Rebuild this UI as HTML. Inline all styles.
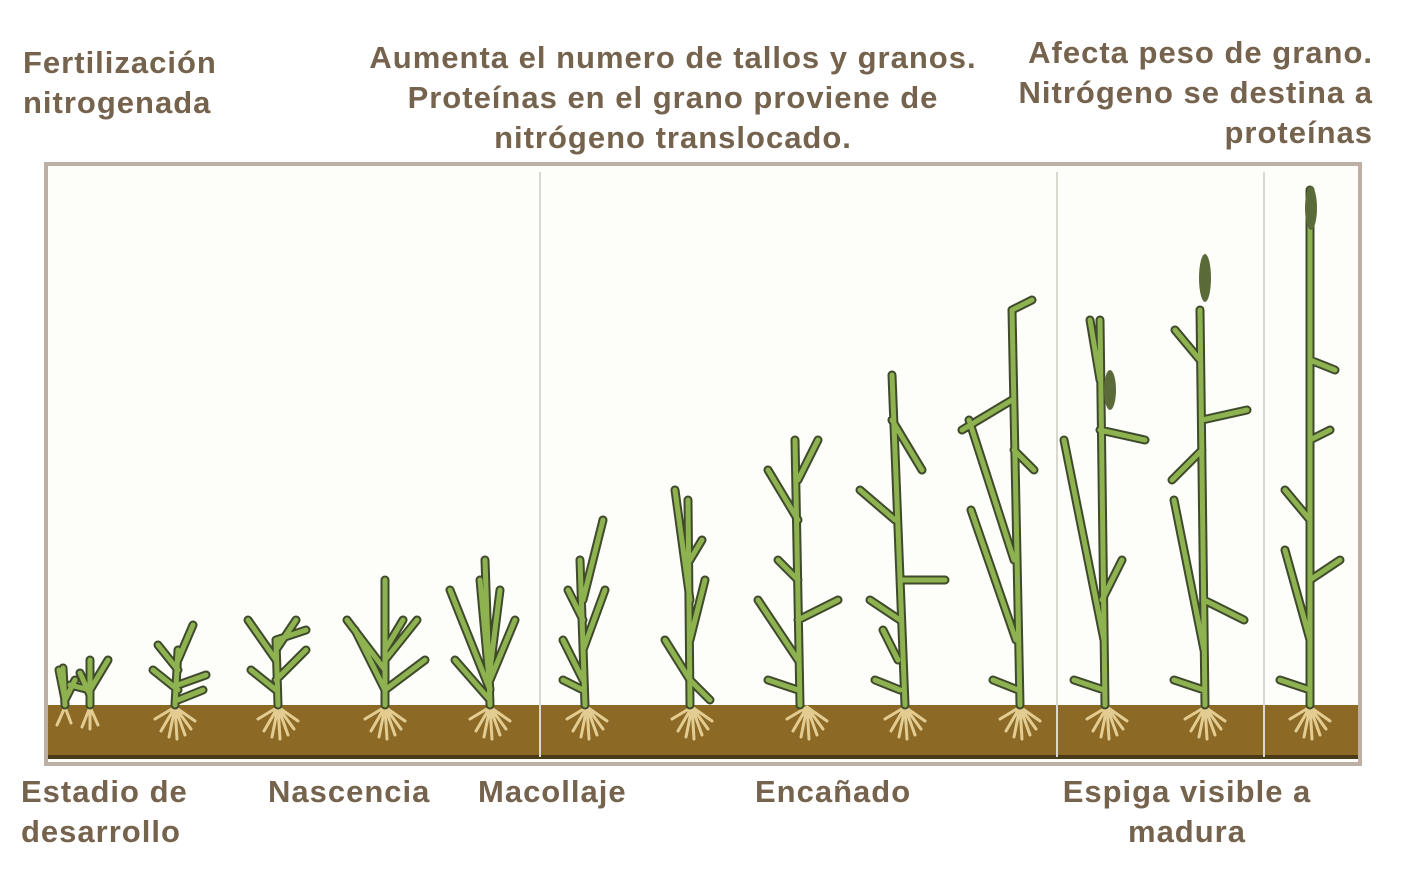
<!DOCTYPE html>
<html><head><meta charset="utf-8"><style>
body{margin:0;width:1404px;height:872px;background:#fff;position:relative;overflow:hidden;font-family:"Liberation Sans",sans-serif;}
.t{position:absolute;color:#75634d;font-weight:bold;font-size:31px;line-height:40px;white-space:nowrap;letter-spacing:1px}
svg{position:absolute;left:0;top:0}
</style></head><body>
<div class="t" style="left:23px;top:43px">Fertilización<br>nitrogenada</div>
<div class="t" style="left:300px;top:38px;width:746px;text-align:center">Aumenta el numero de tallos y granos.<br>Proteínas en el grano proviene de<br>nitrógeno translocado.</div>
<div class="t" style="right:31px;top:33px;text-align:right">Afecta peso de grano.<br>Nitrógeno se destina a<br>proteínas</div>
<div class="t" style="left:21px;top:772px">Estadio de<br>desarrollo</div>
<div class="t" style="left:268px;top:772px">Nascencia</div>
<div class="t" style="left:478px;top:772px">Macollaje</div>
<div class="t" style="left:755px;top:772px">Encañado</div>
<div class="t" style="left:1037px;top:772px;width:300px;text-align:center">Espiga visible a<br>madura</div>
<svg width="1404" height="872" viewBox="0 0 1404 872">
<rect x="46" y="164" width="1314" height="600" fill="#fdfdf9" stroke="#bcb0a4" stroke-width="4"/>
<rect x="48" y="705" width="1310" height="52" fill="#8c6a25"/>
<rect x="48" y="755" width="1310" height="4" fill="#4a3a18"/>
<g stroke="#d8d8d0" stroke-width="2"><line x1="540" y1="172" x2="540" y2="757"/><line x1="1057" y1="172" x2="1057" y2="757"/><line x1="1264" y1="172" x2="1264" y2="757"/></g>
<g stroke="#e3cc92" stroke-width="3" fill="none" stroke-linecap="round">
<path d="M65 707l-8 18M65 707l6 16M90 707l-8 20M90 707l8 18M90 707l0 22"/>
<path id="r" d="M175 707l-14 24M175 707l-6 30M175 707l2 32M175 707l10 28M175 707l16 22M175 707l-20 12M175 707l20 14"/>
<use href="#r" x="103"/><use href="#r" x="210"/><use href="#r" x="315"/><use href="#r" x="412"/><use href="#r" x="517"/><use href="#r" x="632"/><use href="#r" x="730"/><use href="#r" x="845"/><use href="#r" x="932"/><use href="#r" x="1030"/><use href="#r" x="1135"/>
</g>
<g fill="none" stroke-linecap="round" stroke-linejoin="round">
<g stroke="#3f4a2c" stroke-width="9">
<path id="p" d="M65 705L63 668M65 700l-6-30M65 700l10-20M90 705L90 660M90 695l-10-22M90 690l18-30M90 690l-20-5
M175 705L178 650M178 690l-25-20M178 685l28-10M178 670l-20-25M178 660l15-35M178 700l25-10
M278 705L276 640M276 690l-25-20M276 680l30-30M276 660l-28-40M276 650l20-30M276 640l30 -10
M385 705L385 580M385 690l-30-60M385 670l-38-50M385 660l32-40M385 650l18-30M385 690l40-30
M490 705L485 560M490 700l-35-40M490 690l-40-100M490 680l25-60M490 670l10-80M490 690l-10-110
M585 705L580 560M583 680l-20-40M583 650l22-60M583 600l20-80M583 620l-15-30M583 690l-20-10
M690 705L688 500M690 680l-25-40M690 640l15-60M690 600l-15-110M690 560l12-20M690 680l20 20
M800 705L795 440M798 690l-30-10M798 660l-40-60M798 620l40-20M798 520l-30-50M798 480l20-40M798 580l-20-20
M905 705L892 375M900 690l-25-10M900 620l-30-20M900 580l45 0M895 520l-35-30M892 420l30 50M898 660l-15-30
M1020 705L1012 310M1018 690l-25-10M1016 640l-45-130M1014 560l-45-140M1014 450l20 20M1012 400l-50 30M1012 310l20-10
M1105 705L1100 320M1104 690l-30-10M1104 640l-40-200M1102 600l20-40M1100 430l45 10M1100 380l-10-60
M1205 705L1200 310M1204 690l-30-10M1204 650l-30-150M1204 600l40 20M1202 450l-30 30M1202 420l45-10M1200 360l-25-30
M1310 705L1310 190M1310 690l-30-10M1310 640l-25-90M1310 580l30-20M1310 520l-25-30M1310 440l20 -10M1310 360l25 10"/>
</g>
<use href="#p" stroke="#8db24f" stroke-width="5"/>
</g>
<g fill="#5a6a38"><ellipse cx="1110" cy="390" rx="6" ry="20"/><ellipse cx="1205" cy="278" rx="6" ry="24"/><ellipse cx="1311" cy="208" rx="6" ry="22"/></g>
</svg>
</body></html>
